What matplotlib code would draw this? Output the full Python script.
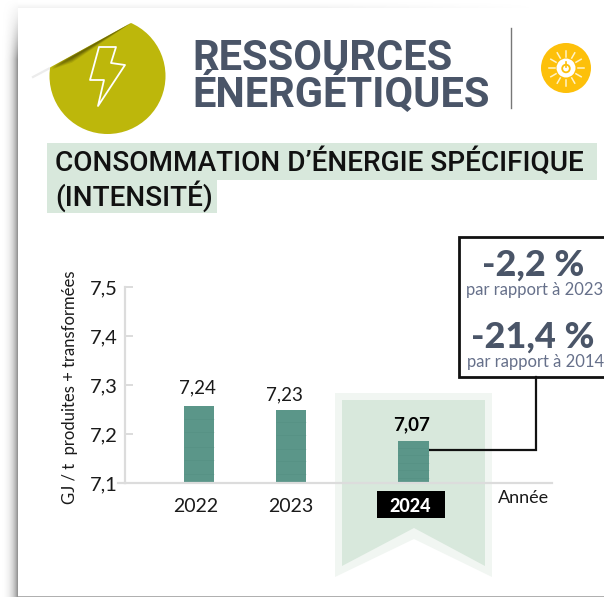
import numpy as np
import matplotlib

matplotlib.use("Agg")
import matplotlib.pyplot as plt
from matplotlib.patches import Circle, Polygon, Rectangle

# ── Data ──────────────────────────────────────────────────────────────────────
years = ["2022", "2023", "2024"]
bar_tops = [7.257, 7.249, 7.186]  # heights as drawn, the picture isn't quite to scale
value_labels = ["7,24", "7,23", "7,07"]
y_ticks = [7.1, 7.2, 7.3, 7.4, 7.5]
y_tick_labels = ["7,1", "7,2", "7,3", "7,4", "7,5"]

# ── Palette ───────────────────────────────────────────────────────────────────
SLATE = "#4a5568"
SLATE_SOFT = "#66708a"
OLIVE = "#bdb70b"
SUN = "#fdc00a"
MINT = "#d8e8dc"
MINT_PALE = "#f1f6f2"
BAR = "#5b9689"
AXIS = "#dcdcdc"
TEXT = "#1a1a1a"

W, H = 604, 597
fig = plt.figure(figsize=(W / 100, H / 100), dpi=100, facecolor="white")

# background layer in pixel coordinates
bg = fig.add_axes([0, 0, 1, 1])
bg.axis("off")

# page shadow
fade = np.linspace(0, 1, 60)
left = np.outer(np.concatenate([fade, np.ones(540)]), np.linspace(0, 1, 16) ** 1.6)
bg.imshow(left, extent=(2, 18, 597, 0), cmap="Greys", vmin=0, vmax=2.0, aspect="auto", zorder=1)
top = np.outer(np.linspace(0, 1, 8) ** 2, np.concatenate([np.ones(300), np.linspace(1, 0, 220)]))
bg.imshow(top, extent=(18, 538, 8, 0), cmap="Greys", vmin=0, vmax=10, aspect="auto", zorder=1)
bg.set_xlim(0, W)
bg.set_ylim(H, 0)
bg.add_patch(Rectangle((18, 595.5), 586, 1.5, facecolor="#b0b0b0", edgecolor="none", zorder=2))

# sticker with folded corner
fold = Polygon([(49, 68), (131, 23), (190, 10), (190, 150), (30, 150), (30, 78)], transform=bg.transData)
circle = Circle((107.5, 76), 58, facecolor=OLIVE, edgecolor="none", zorder=3)
bg.add_patch(circle)
circle.set_clip_path(fold)
for i in range(6):
    off = 0.8 + i * 1.3
    band = Polygon(
        [(52, 66.4 + off * 0.4), (131, 23), (72, 55.4 + off)],
        facecolor="#4f4b03",
        edgecolor="none",
        alpha=0.5 - i * 0.07,
        zorder=4,
    )
    bg.add_patch(band)
bg.plot([33, 49], [77, 68.5], color="#ececec", lw=1.6, zorder=2)
bg.add_patch(
    Polygon(
        [(99, 47), (116, 47), (111, 63), (125, 65), (98, 106), (104, 80), (90, 80)],
        closed=True,
        facecolor="none",
        edgecolor="white",
        lw=1.3,
        joinstyle="round",
        zorder=5,
    )
)

# header
bg.text(192, 70, "RESSOURCES", color=SLATE, fontsize=30, fontweight="bold", family="Roboto", va="baseline", ha="left")
bg.text(192, 107, "ÉNERGÉTIQUES", color=SLATE, fontsize=30, fontweight="bold", family="Roboto", va="baseline", ha="left")
bg.plot([511, 511], [28, 108], color="#777777", lw=1)

# sun icon
SX, SY = 566, 68
bg.add_patch(Circle((SX, SY), 25, facecolor=SUN, edgecolor="none", zorder=3))
bg.add_patch(Circle((SX, SY), 9.5, facecolor="white", edgecolor="none", zorder=4))
bg.add_patch(Circle((SX, SY + 0.5), 3.8, facecolor="none", edgecolor=SUN, lw=1.3, zorder=5))
bg.plot([SX, SX], [SY - 6, SY - 1], color=SUN, lw=1.2, zorder=6)
for a in np.arange(0, 360, 30):
    c, s = np.cos(np.radians(a)), np.sin(np.radians(a))
    bg.plot([SX + 11.5 * c, SX + 17.5 * c], [SY + 11.5 * s, SY + 17.5 * s], color="#fff3c8", lw=1.1, zorder=4)

# section title
bg.add_patch(Rectangle((47, 143), 550, 37, facecolor=MINT, edgecolor="none"))
bg.add_patch(Rectangle((47, 180), 170, 33, facecolor=MINT, edgecolor="none"))
bg.text(55, 171, "CONSOMMATION D’ÉNERGIE SPÉCIFIQUE", color="#111111", fontsize=20.2, fontweight="medium",
        family="Roboto", va="baseline", ha="left", zorder=3)
bg.text(55, 206, "(INTENSITÉ)", color="#111111", fontsize=20.2, fontweight="medium",
        family="Roboto", va="baseline", ha="left", zorder=3)

# bookmark behind 2024
bg.add_patch(Polygon([(335, 393), (492, 393), (492, 577), (414, 539), (335, 577)], facecolor=MINT_PALE, edgecolor="none"))
bg.add_patch(Polygon([(342, 400), (485, 400), (485, 566), (414, 528), (342, 566)], facecolor=MINT, edgecolor="none"))
bg.add_patch(Rectangle((377, 491), 68, 27, facecolor="black", edgecolor="none", zorder=3))

# callout box and connector
bg.add_patch(Rectangle((459, 237), 160, 140, facecolor="white", edgecolor="#111111", lw=2, zorder=3))
bg.plot([536, 536, 430], [377, 450, 450], color="#111111", lw=1.6, zorder=6, solid_joinstyle="miter")
bg.text(533, 265, "-2,2 %", color=SLATE, fontsize=26, fontweight="black", family="Lato", ha="center", va="center", zorder=4)
bg.text(535, 290, "par rapport à 2023", color=SLATE_SOFT, fontsize=12, family="Lato", ha="center", va="center", zorder=4)
bg.text(533, 337, "-21,4 %", color=SLATE, fontsize=26, fontweight="black", family="Lato", ha="center", va="center", zorder=4)
bg.text(536, 362, "par rapport à 2014", color=SLATE_SOFT, fontsize=12, family="Lato", ha="center", va="center", zorder=4)

# ── Chart ─────────────────────────────────────────────────────────────────────
L, R, T, B = 125, 552, 287, 483
ax = fig.add_axes([L / W, 1 - B / H, (R - L) / W, (B - T) / H])
ax.patch.set_alpha(0)

x_pos = [0, 1, 2.333]
bar_w = 0.335
ax.bar(x_pos, np.array(bar_tops) - 7.1, bottom=7.1, width=bar_w, color=BAR, zorder=3)
# faint paper-like streaks across the bars
for x, top_val in zip(x_pos, bar_tops):
    for f in (0.12, 0.3, 0.47, 0.66, 0.83):
        ax.hlines(7.1 + f * (top_val - 7.1), x - bar_w / 2, x + bar_w / 2, color="#4a8478", lw=0.7, alpha=0.22, zorder=4)
ax.set_xlim(-0.804, 3.837)
ax.set_ylim(7.1, 7.5)

label_offsets = [(-2, 18), (-7, 15), (-2, 16)]
for i, (x, top_val, lab) in enumerate(zip(x_pos, bar_tops, value_labels)):
    ax.annotate(
        lab,
        (x, top_val),
        xytext=label_offsets[i],
        textcoords="offset pixels",
        ha="center",
        va="center",
        color="black" if i == 2 else TEXT,
        fontsize=13.5,
        fontweight="bold" if i == 2 else "normal",
        family="Lato",
    )

for s in ("top", "right"):
    ax.spines[s].set_visible(False)
for s in ("left", "bottom"):
    ax.spines[s].set_color(AXIS)
    ax.spines[s].set_linewidth(1.6)
    ax.spines[s].set_zorder(5)

ax.set_yticks(y_ticks, y_tick_labels, fontsize=14.5, color=TEXT, family="Lato")
ax.tick_params(axis="y", direction="in", length=6, width=1.4, color=AXIS, pad=5)
ax.set_xticks([-0.035, 1, 2.29], years, fontsize=14, color=TEXT, family="Lato")
ax.tick_params(axis="x", length=0, pad=11)
xt = ax.get_xticklabels()[2]
xt.set_color("white")
xt.set_fontweight("black")
xt.set_fontsize(13)

ax.set_ylabel("GJ / t  produites + transformées", fontsize=12, color=TEXT, family="Lato")
ax.yaxis.set_label_coords(-47 / (R - L), 0.49)
ax.set_xlabel("Année", fontsize=13, color=TEXT, family="Lato", va="center")
ax.xaxis.set_label_coords(0.934, -0.077)

# axis line runs a little past the y axis
bg.plot([118, 125], [483, 483], color=AXIS, lw=1.6)

fig.savefig("out.png", dpi=100, facecolor="white")
